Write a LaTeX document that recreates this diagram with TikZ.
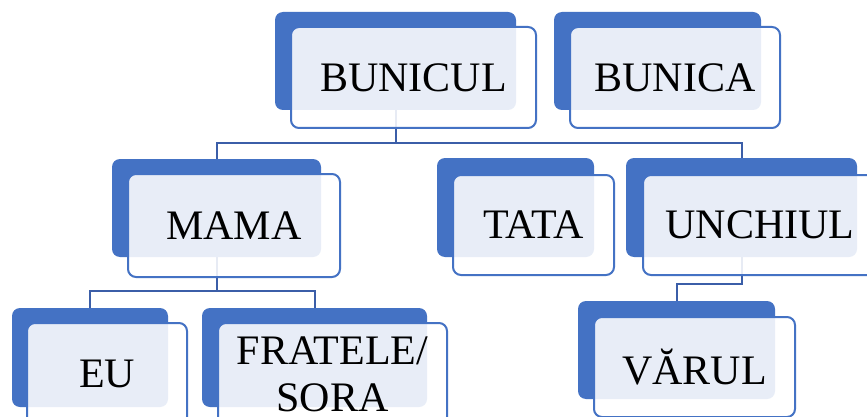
\documentclass[tikz,border=0pt]{standalone}
\usepackage{fontspec}
\setmainfont{Liberation Serif}
\definecolor{accent}{HTML}{4472C4}
\definecolor{linkc}{RGB}{59,94,168}
\tikzset{
  backbox/.style={draw=none, fill=accent, rounded corners=8pt, inner sep=0pt, anchor=center},
  frontbox/.style={draw=accent, line width=2pt, fill=white, fill opacity=0.88, text opacity=1,
    rounded corners=8pt, inner sep=0pt, anchor=center, align=center,
    font=\fontsize{42}{47}\selectfont},
  link/.style={draw=linkc, line width=2pt}
}
\begin{document}
\begin{tikzpicture}[x=1pt,y=-1pt]
\clip (0,0) rectangle (867,417);
\fill[white] (0,0) rectangle (867,417);
% back boxes
\node[backbox, minimum width=241pt, minimum height=98pt] (bBUNICUL) at (395.5,61) {};
\node[backbox, minimum width=207pt, minimum height=98pt] (bBUNICA) at (657.5,61) {};
\node[backbox, minimum width=209pt, minimum height=98pt] (bMAMA) at (216.5,208) {};
\node[backbox, minimum width=157pt, minimum height=99pt] (bTATA) at (515.5,207.5) {};
\node[backbox, minimum width=231pt, minimum height=99pt] (bUNCHIUL) at (741.5,207.5) {};
\node[backbox, minimum width=156pt, minimum height=99pt] (bEU) at (90,357.5) {};
\node[backbox, minimum width=225pt, minimum height=99pt] (bFRATE) at (314.5,357.5) {};
\node[backbox, minimum width=197pt, minimum height=98pt] (bVAR) at (676.5,350) {};
% connectors
\draw[link] (bBUNICUL.south) -- ++(0,33) -| (bMAMA.north);
\draw[link] (bBUNICUL.south) -- ++(0,33) -| (bUNCHIUL.north);
\draw[link] (bMAMA.south) -- ++(0,34) -| (bEU.north);
\draw[link] (bMAMA.south) -- ++(0,34) -| (bFRATE.north);
\draw[link] (bUNCHIUL.south) -- ++(0,27) -| (bVAR.north);
% front boxes
\node[frontbox, minimum width=245pt, minimum height=101pt] (fBUNICUL) at (413.5,77.5) {BUNICUL};
\node[frontbox, minimum width=210pt, minimum height=101pt] (fBUNICA) at (675,77.5) {BUNICA};
\node[frontbox, minimum width=212pt, minimum height=103pt] (fMAMA) at (234,225.5) {MAMA};
\node[frontbox, minimum width=161pt, minimum height=100pt] (fTATA) at (533.5,225) {TATA};
\node[frontbox, minimum width=234pt, minimum height=100pt] (fUNCHIUL) at (760,225) {UNCHIUL};
\node[frontbox, minimum width=160pt, minimum height=102pt] (fEU) at (107,374) {EU};
\node[frontbox, minimum width=229pt, minimum height=102pt] (fFRATE) at (332.5,374) {FRATELE/\\SORA};
\node[frontbox, minimum width=201pt, minimum height=100pt] (fVAR) at (694.5,367) {VĂRUL};
\end{tikzpicture}
\end{document}
